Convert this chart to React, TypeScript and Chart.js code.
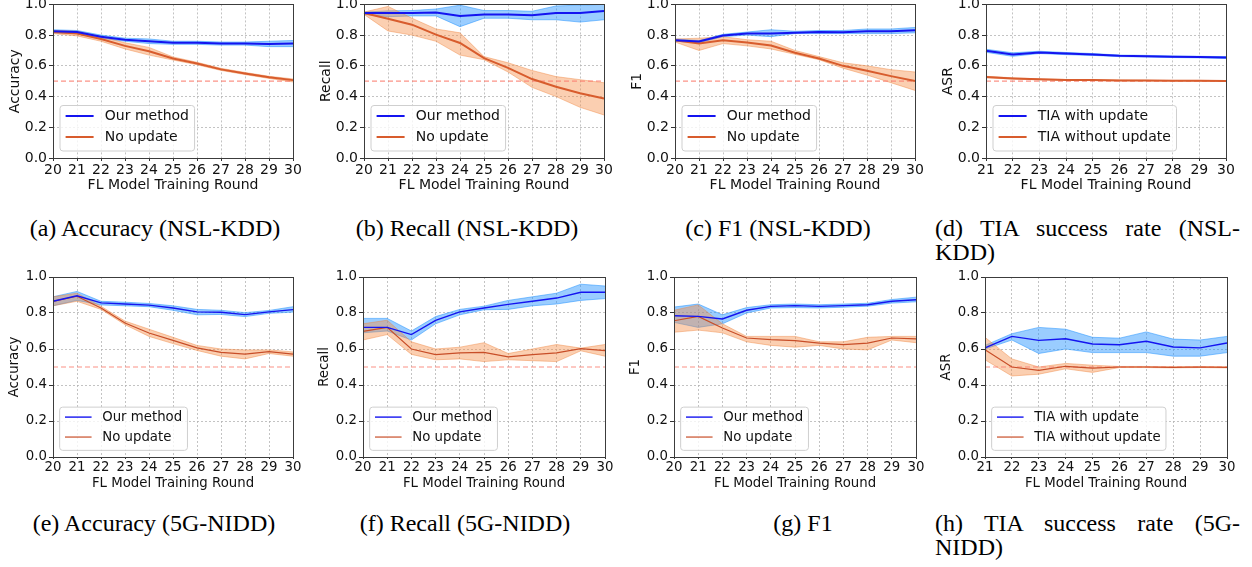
import React, { useEffect, useRef } from 'react';
import { Chart, registerables } from 'chart.js';

Chart.register(...registerables);

// ---------- categories ----------
const ROUNDS = ['20', '21', '22', '23', '24', '25', '26', '27', '28', '29', '30'];
const ROUNDS_TIA = ['21', '22', '23', '24', '25', '26', '27', '28', '29', '30'];
const CHANCE_LEVEL = 0.5;

// ---------- (a) Accuracy NSL-KDD ----------
const accNslOurs = [0.825, 0.82, 0.79, 0.77, 0.76, 0.75, 0.75, 0.745, 0.745, 0.743, 0.745];
const accNslOursLo = [0.815, 0.81, 0.78, 0.76, 0.745, 0.74, 0.74, 0.735, 0.735, 0.725, 0.725];
const accNslOursHi = [0.835, 0.83, 0.8, 0.78, 0.775, 0.76, 0.76, 0.755, 0.755, 0.76, 0.765];
const accNslBase = [0.82, 0.81, 0.775, 0.73, 0.695, 0.648, 0.615, 0.577, 0.55, 0.525, 0.507];
const accNslBaseLo = [0.81, 0.795, 0.76, 0.71, 0.67, 0.638, 0.607, 0.57, 0.543, 0.518, 0.495];
const accNslBaseHi = [0.83, 0.825, 0.79, 0.75, 0.72, 0.658, 0.623, 0.584, 0.557, 0.532, 0.515];

// ---------- (b) Recall NSL-KDD ----------
const recNslOurs = [0.944, 0.944, 0.944, 0.948, 0.925, 0.935, 0.935, 0.93, 0.944, 0.944, 0.957];
const recNslOursLo = [0.935, 0.92, 0.925, 0.925, 0.855, 0.91, 0.91, 0.9, 0.9, 0.885, 0.9];
const recNslOursHi = [0.95, 0.958, 0.96, 0.97, 0.995, 0.96, 0.96, 0.955, 0.99, 0.995, 1.0];
const recNslBase = [0.944, 0.907, 0.868, 0.803, 0.749, 0.65, 0.587, 0.514, 0.464, 0.421, 0.387];
const recNslBaseLo = [0.935, 0.827, 0.8, 0.76, 0.67, 0.64, 0.56, 0.46, 0.4, 0.33, 0.28];
const recNslBaseHi = [0.95, 0.987, 0.91, 0.84, 0.815, 0.66, 0.62, 0.57, 0.53, 0.51, 0.49];

// ---------- (c) F1 NSL-KDD ----------
const f1NslOurs = [0.767, 0.758, 0.797, 0.81, 0.81, 0.816, 0.82, 0.819, 0.825, 0.825, 0.832];
const f1NslOursLo = [0.76, 0.75, 0.79, 0.8, 0.79, 0.81, 0.81, 0.81, 0.81, 0.81, 0.815];
const f1NslOursHi = [0.775, 0.765, 0.805, 0.82, 0.835, 0.825, 0.83, 0.83, 0.84, 0.84, 0.85];
const f1NslBase = [0.767, 0.745, 0.767, 0.752, 0.732, 0.685, 0.648, 0.6, 0.568, 0.533, 0.501];
const f1NslBaseLo = [0.755, 0.7, 0.745, 0.73, 0.71, 0.675, 0.64, 0.585, 0.54, 0.49, 0.44];
const f1NslBaseHi = [0.775, 0.78, 0.79, 0.77, 0.76, 0.7, 0.66, 0.62, 0.6, 0.575, 0.56];

// ---------- (d) TIA NSL-KDD ----------
const tiaNslWith = [0.698, 0.674, 0.687, 0.68, 0.674, 0.665, 0.663, 0.659, 0.657, 0.654];
const tiaNslWithLo = [0.688, 0.662, 0.68, 0.673, 0.668, 0.66, 0.658, 0.654, 0.652, 0.648];
const tiaNslWithHi = [0.708, 0.685, 0.695, 0.687, 0.68, 0.67, 0.668, 0.664, 0.662, 0.66];
const tiaNslWithout = [0.527, 0.518, 0.512, 0.508, 0.507, 0.505, 0.504, 0.503, 0.503, 0.502];
const tiaNslWithoutLo = [0.522, 0.514, 0.509, 0.505, 0.504, 0.503, 0.502, 0.501, 0.501, 0.5];
const tiaNslWithoutHi = [0.532, 0.522, 0.515, 0.511, 0.51, 0.508, 0.506, 0.505, 0.505, 0.504];

// ---------- (e) Accuracy 5G-NIDD ----------
const acc5gOurs = [0.865, 0.896, 0.856, 0.85, 0.844, 0.828, 0.806, 0.804, 0.791, 0.806, 0.819];
const acc5gOursLo = [0.84, 0.87, 0.845, 0.84, 0.835, 0.815, 0.79, 0.792, 0.78, 0.798, 0.805];
const acc5gOursHi = [0.89, 0.92, 0.865, 0.86, 0.853, 0.84, 0.82, 0.815, 0.802, 0.814, 0.835];
const acc5gBase = [0.865, 0.893, 0.828, 0.744, 0.689, 0.648, 0.606, 0.581, 0.572, 0.585, 0.572];
const acc5gBaseLo = [0.84, 0.865, 0.82, 0.735, 0.67, 0.63, 0.592, 0.56, 0.545, 0.575, 0.56];
const acc5gBaseHi = [0.89, 0.91, 0.837, 0.755, 0.71, 0.665, 0.62, 0.6, 0.595, 0.595, 0.584];

// ---------- (f) Recall 5G-NIDD ----------
const rec5gOurs = [0.72, 0.72, 0.68, 0.759, 0.806, 0.828, 0.848, 0.865, 0.883, 0.915, 0.915];
const rec5gOursLo = [0.69, 0.7, 0.65, 0.74, 0.79, 0.818, 0.82, 0.84, 0.85, 0.87, 0.88];
const rec5gOursHi = [0.77, 0.77, 0.7, 0.78, 0.82, 0.838, 0.87, 0.89, 0.91, 0.96, 0.95];
const rec5gBase = [0.698, 0.72, 0.6, 0.569, 0.578, 0.581, 0.556, 0.569, 0.578, 0.602, 0.591];
const rec5gBaseLo = [0.65, 0.68, 0.57, 0.54, 0.545, 0.53, 0.54, 0.535, 0.53, 0.59, 0.56];
const rec5gBaseHi = [0.74, 0.76, 0.64, 0.6, 0.61, 0.635, 0.575, 0.6, 0.625, 0.605, 0.625];

// ---------- (g) F1 5G-NIDD ----------
const f15gOurs = [0.785, 0.781, 0.767, 0.815, 0.837, 0.841, 0.837, 0.841, 0.846, 0.865, 0.874];
const f15gOursLo = [0.748, 0.72, 0.74, 0.8, 0.828, 0.83, 0.828, 0.832, 0.838, 0.855, 0.862];
const f15gOursHi = [0.833, 0.85, 0.79, 0.83, 0.846, 0.85, 0.846, 0.85, 0.854, 0.875, 0.888];
const f15gBase = [0.757, 0.781, 0.717, 0.661, 0.652, 0.646, 0.633, 0.624, 0.633, 0.661, 0.656];
const f15gBaseLo = [0.693, 0.705, 0.69, 0.64, 0.62, 0.61, 0.62, 0.6, 0.595, 0.65, 0.635];
const f15gBaseHi = [0.815, 0.845, 0.74, 0.67, 0.67, 0.67, 0.64, 0.64, 0.665, 0.67, 0.67];

// ---------- (h) TIA 5G-NIDD ----------
const tia5gWith = [0.606, 0.67, 0.648, 0.657, 0.628, 0.624, 0.643, 0.611, 0.606, 0.633];
const tia5gWithLo = [0.6, 0.65, 0.575, 0.6, 0.58, 0.58, 0.58, 0.56, 0.56, 0.58];
const tia5gWithHi = [0.62, 0.685, 0.72, 0.71, 0.665, 0.66, 0.695, 0.655, 0.65, 0.67];
const tia5gWithout = [0.596, 0.5, 0.481, 0.504, 0.494, 0.5, 0.5, 0.498, 0.5, 0.498];
const tia5gWithoutLo = [0.54, 0.45, 0.46, 0.49, 0.47, 0.497, 0.497, 0.495, 0.497, 0.495];
const tia5gWithoutHi = [0.665, 0.545, 0.5, 0.52, 0.51, 0.503, 0.503, 0.501, 0.503, 0.501];

// ---------- text ----------
const LEGEND_METHOD = ['Our method', 'No update'];
const LEGEND_TIA = ['TIA with update', 'TIA without update'];
const X_TITLE = 'FL Model Training Round';

// ---------- styles ----------
const BLUE = 'rgb(20,20,240)';
const BLUE_BAND = 'rgba(30,144,255,0.45)';
const BLUE_EDGE = 'rgba(30,144,255,0.65)';
const ORANGE = 'rgb(216,92,45)';
const ORANGE_DARK = 'rgb(200,78,40)';
const ORANGE_BAND = 'rgba(245,140,70,0.42)';
const ORANGE_EDGE = 'rgba(240,130,60,0.55)';
const DASH = 'rgba(250,128,114,0.85)';
const FONT = "'DejaVu Sans', sans-serif";

type Band = { mean: number[]; lo: number[]; hi: number[] };
type Spec = {
  left: number;
  top: number;
  plotW: number;
  plotH: number;
  labels: string[];
  yTitle: string;
  names: string[];
  ours: Band;
  base: Band;
  fs: number;
  lwBlue: number;
  lwOrange: number;
  orange: string;
  yTitlePad: number;
  xTickLen: number;
  xTitlePadBottom: number;
};

const PAD_TOP = 10;
const PAD_RIGHT = 12;
const Y_AXIS_W = 53;
const X_AXIS_H = 38;

function makeFramePlugin() {
  return {
    id: 'frameBox',
    afterDatasetsDraw(chart: any) {
      const { ctx, chartArea: a } = chart;
      ctx.save();
      ctx.strokeStyle = '#3c3c3c';
      ctx.lineWidth = 1;
      ctx.strokeRect(Math.round(a.left) + 0.5, Math.round(a.top) + 0.5, Math.round(a.right - a.left), Math.round(a.bottom - a.top));
      ctx.restore();
    },
  };
}

function makeLegendPlugin(fs: number) {
  return {
    id: 'boxLegend',
    afterDraw(chart: any) {
      const { ctx, chartArea: a } = chart;
      const items = chart.data.datasets.filter((d: any) => d.label);
      ctx.save();
      ctx.font = `${fs}px ${FONT}`;
      const maxText = Math.max(...items.map((d: any) => ctx.measureText(d.label).width));
      const pad = 0.4 * fs;
      const handle = 2 * fs;
      const tpad = 0.8 * fs;
      const axPad = 0.5 * fs;
      const rowH = 1.5 * fs;
      const w = 2 * pad + handle + tpad + maxText;
      const h = 1.75 * fs + (items.length - 1) * rowH;
      const x0 = a.left + axPad;
      const y0 = a.bottom - axPad - h;
      const r = 3;
      ctx.beginPath();
      ctx.moveTo(x0 + r, y0);
      ctx.lineTo(x0 + w - r, y0);
      ctx.arcTo(x0 + w, y0, x0 + w, y0 + r, r);
      ctx.lineTo(x0 + w, y0 + h - r);
      ctx.arcTo(x0 + w, y0 + h, x0 + w - r, y0 + h, r);
      ctx.lineTo(x0 + r, y0 + h);
      ctx.arcTo(x0, y0 + h, x0, y0 + h - r, r);
      ctx.lineTo(x0, y0 + r);
      ctx.arcTo(x0, y0, x0 + r, y0, r);
      ctx.closePath();
      ctx.fillStyle = 'rgba(255,255,255,0.8)';
      ctx.fill();
      ctx.strokeStyle = '#cfcfcf';
      ctx.lineWidth = 1;
      ctx.stroke();
      items.forEach((d: any, i: number) => {
        const cy = y0 + 0.75 * fs + i * rowH;
        ctx.beginPath();
        ctx.strokeStyle = d.borderColor;
        ctx.lineWidth = d.borderWidth;
        ctx.moveTo(x0 + pad, cy);
        ctx.lineTo(x0 + pad + handle, cy);
        ctx.stroke();
        ctx.fillStyle = '#111';
        ctx.textBaseline = 'middle';
        ctx.textAlign = 'left';
        ctx.fillText(d.label, x0 + pad + handle + tpad, cy + 0.5);
      });
      ctx.restore();
    },
  };
}

function buildConfig(s: Spec): any {
  const chance = s.labels.map(() => CHANCE_LEVEL);
  const base = { pointRadius: 0, tension: 0, pointHoverRadius: 0 };
  return {
    type: 'line',
    data: {
      labels: s.labels,
      datasets: [
        { ...base, label: s.names[0], data: s.ours.mean, borderColor: BLUE, borderWidth: s.lwBlue, fill: false, order: 0 },
        { ...base, label: s.names[1], data: s.base.mean, borderColor: s.orange, borderWidth: s.lwOrange, fill: false, order: 1 },
        { ...base, label: '', data: chance, borderColor: DASH, borderWidth: 1.2, borderDash: [5, 3], fill: false, order: 2 },
        { ...base, label: '', data: s.ours.hi, borderColor: BLUE_EDGE, borderWidth: 0.8, fill: false, order: 4 },
        { ...base, label: '', data: s.ours.lo, borderColor: BLUE_EDGE, borderWidth: 0.8, backgroundColor: BLUE_BAND, fill: '-1', order: 4 },
        { ...base, label: '', data: s.base.hi, borderColor: ORANGE_EDGE, borderWidth: 0.8, fill: false, order: 3 },
        { ...base, label: '', data: s.base.lo, borderColor: ORANGE_EDGE, borderWidth: 0.8, backgroundColor: ORANGE_BAND, fill: '-1', order: 3 },
      ],
    },
    options: {
      responsive: false,
      animation: false,
      devicePixelRatio: 1,
      events: [],
      layout: { padding: { top: PAD_TOP, right: PAD_RIGHT, left: 0, bottom: 0 } },
      plugins: { legend: { display: false }, tooltip: { enabled: false } },
      scales: {
        x: {
          type: 'category',
          offset: false,
          afterFit: (sc: any) => { sc.height = X_AXIS_H; },
          grid: { color: '#b4b4b4', lineWidth: 0.8, drawTicks: true, tickLength: s.xTickLen, tickColor: '#333', tickWidth: 1 },
          border: { display: false, dash: [2, 2] },
          ticks: { autoSkip: false, maxRotation: 0, padding: 1, color: '#111', font: { family: FONT, size: s.fs } },
          title: { display: true, text: X_TITLE, color: '#111', font: { family: FONT, size: s.fs }, padding: { top: 0, bottom: s.xTitlePadBottom } },
        },
        y: {
          min: 0,
          max: 1,
          afterFit: (sc: any) => { sc.width = Y_AXIS_W; },
          grid: { color: '#b4b4b4', lineWidth: 0.8, drawTicks: true, tickLength: 4, tickColor: '#333', tickWidth: 1 },
          border: { display: false, dash: [2, 2] },
          ticks: { stepSize: 0.2, padding: 2, color: '#111', font: { family: FONT, size: s.fs }, callback: (v: number) => v.toFixed(1) },
          title: { display: true, text: s.yTitle, color: '#111', font: { family: FONT, size: s.fs }, padding: { top: s.yTitlePad, bottom: 0 } },
        },
      },
    },
    plugins: [makeFramePlugin(), makeLegendPlugin(s.fs)],
  };
}

function Panel({ spec }: { spec: Spec }) {
  const ref = useRef<HTMLCanvasElement>(null);
  const w = spec.plotW + Y_AXIS_W + PAD_RIGHT;
  const h = spec.plotH + PAD_TOP + X_AXIS_H;
  useEffect(() => {
    const chart = new Chart(ref.current as HTMLCanvasElement, buildConfig(spec));
    return () => chart.destroy();
  }, [spec]);
  return (
    <canvas
      ref={ref}
      width={w}
      height={h}
      style={{ position: 'absolute', left: spec.left - Y_AXIS_W, top: spec.top - PAD_TOP, width: w, height: h }}
    />
  );
}

const TOP = { top: 4, plotH: 154, fs: 14, lwBlue: 2, lwOrange: 2, orange: ORANGE, yTitlePad: 6.6, xTickLen: 3, xTitlePadBottom: 2.6 };
const BOT = { top: 277, plotH: 180, fs: 13.3, lwBlue: 1.4, lwOrange: 1.2, orange: ORANGE_DARK, yTitlePad: 7, xTickLen: 2, xTitlePadBottom: 3 };

const SPECS: Spec[] = [
  { ...TOP, left: 53, plotW: 240, labels: ROUNDS, yTitle: 'Accuracy', names: LEGEND_METHOD,
    ours: { mean: accNslOurs, lo: accNslOursLo, hi: accNslOursHi }, base: { mean: accNslBase, lo: accNslBaseLo, hi: accNslBaseHi } },
  { ...TOP, left: 364, plotW: 240, labels: ROUNDS, yTitle: 'Recall', names: LEGEND_METHOD,
    ours: { mean: recNslOurs, lo: recNslOursLo, hi: recNslOursHi }, base: { mean: recNslBase, lo: recNslBaseLo, hi: recNslBaseHi } },
  { ...TOP, left: 675, plotW: 240, labels: ROUNDS, yTitle: 'F1', names: LEGEND_METHOD,
    ours: { mean: f1NslOurs, lo: f1NslOursLo, hi: f1NslOursHi }, base: { mean: f1NslBase, lo: f1NslBaseLo, hi: f1NslBaseHi } },
  { ...TOP, left: 986, plotW: 240, labels: ROUNDS_TIA, yTitle: 'ASR', names: LEGEND_TIA,
    ours: { mean: tiaNslWith, lo: tiaNslWithLo, hi: tiaNslWithHi }, base: { mean: tiaNslWithout, lo: tiaNslWithoutLo, hi: tiaNslWithoutHi } },
  { ...BOT, left: 53, plotW: 240, labels: ROUNDS, yTitle: 'Accuracy', names: LEGEND_METHOD,
    ours: { mean: acc5gOurs, lo: acc5gOursLo, hi: acc5gOursHi }, base: { mean: acc5gBase, lo: acc5gBaseLo, hi: acc5gBaseHi } },
  { ...BOT, left: 363, plotW: 242, labels: ROUNDS, yTitle: 'Recall', names: LEGEND_METHOD,
    ours: { mean: rec5gOurs, lo: rec5gOursLo, hi: rec5gOursHi }, base: { mean: rec5gBase, lo: rec5gBaseLo, hi: rec5gBaseHi } },
  { ...BOT, left: 674, plotW: 242, labels: ROUNDS, yTitle: 'F1', names: LEGEND_METHOD,
    ours: { mean: f15gOurs, lo: f15gOursLo, hi: f15gOursHi }, base: { mean: f15gBase, lo: f15gBaseLo, hi: f15gBaseHi } },
  { ...BOT, left: 985, plotW: 242, labels: ROUNDS_TIA, yTitle: 'ASR', names: LEGEND_TIA,
    ours: { mean: tia5gWith, lo: tia5gWithLo, hi: tia5gWithHi }, base: { mean: tia5gWithout, lo: tia5gWithoutLo, hi: tia5gWithoutHi } },
];

const CAPTION_FONT = "'Liberation Serif', 'Times New Roman', serif";
const CAP_FS = 24;

function CenterCaption({ text, cx, top }: { text: string; cx: number; top: number }) {
  return (
    <div style={{ position: 'absolute', left: cx - 160, width: 320, top, textAlign: 'center', font: `${CAP_FS}px ${CAPTION_FONT}`, lineHeight: '24px', color: '#000', whiteSpace: 'nowrap' }}>
      {text}
    </div>
  );
}

function JustCaption({ line1, line2, left, top }: { line1: string; line2: string; left: number; top: number }) {
  const common: React.CSSProperties = { position: 'absolute', left, width: 305, font: `${CAP_FS}px ${CAPTION_FONT}`, lineHeight: '24px', color: '#000' };
  return (
    <>
      <div style={{ ...common, top, textAlign: 'justify', textAlignLast: 'justify' as any, whiteSpace: 'normal' }}>{line1}</div>
      <div style={{ ...common, top: top + 24, textAlign: 'left' }}>{line2}</div>
    </>
  );
}

export default function App() {
  return (
    <div style={{ position: 'absolute', left: 0, top: 0, width: 1252, height: 567, overflow: 'hidden', background: '#fff' }}>
      {SPECS.map((s, i) => (
        <Panel key={i} spec={s} />
      ))}
      <CenterCaption text="(a) Accuracy (NSL-KDD)" cx={155} top={216} />
      <CenterCaption text="(b) Recall (NSL-KDD)" cx={467} top={216} />
      <CenterCaption text="(c) F1 (NSL-KDD)" cx={778} top={216} />
      <JustCaption line1="(d) TIA success rate (NSL-" line2="KDD)" left={935} top={216} />
      <CenterCaption text="(e) Accuracy (5G-NIDD)" cx={154} top={511} />
      <CenterCaption text="(f) Recall (5G-NIDD)" cx={465} top={511} />
      <CenterCaption text="(g) F1" cx={803} top={511} />
      <JustCaption line1="(h) TIA success rate (5G-" line2="NIDD)" left={935} top={511} />
    </div>
  );
}
